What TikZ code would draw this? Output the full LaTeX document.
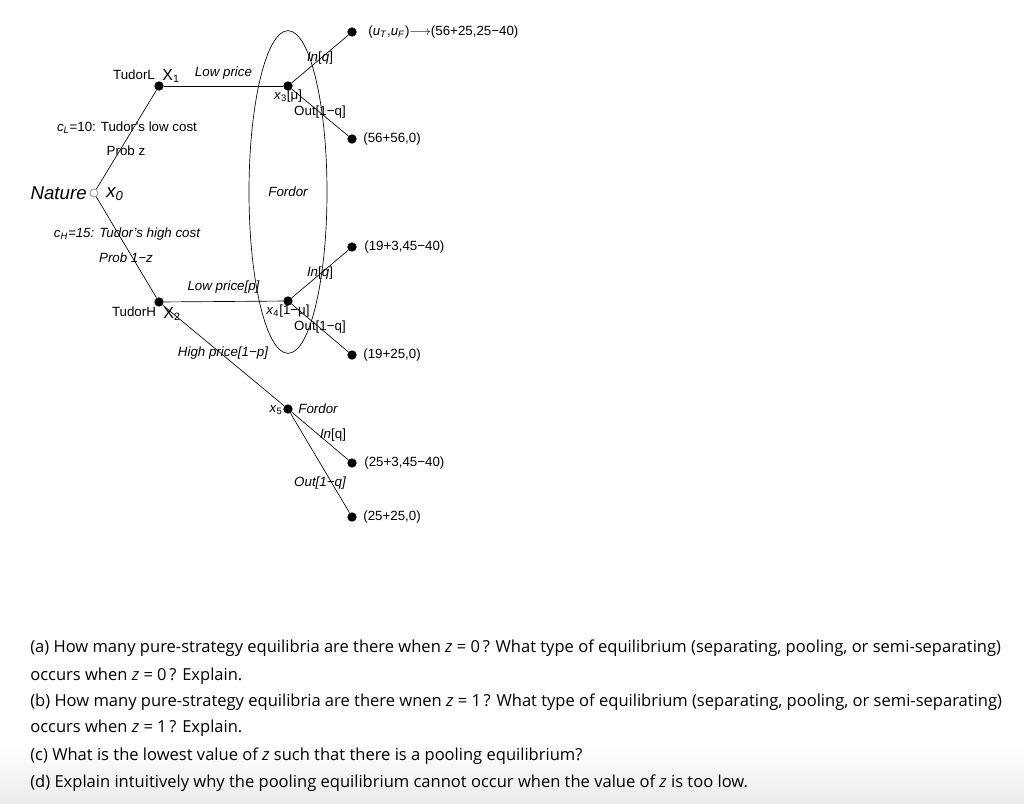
\documentclass[tikz,border=0pt]{standalone}
\usepackage{fontspec}
\setmainfont{Liberation Sans}
\newfontfamily\questfont{Open Sans}
\usetikzlibrary{shapes.geometric}

\begin{document}
\begin{tikzpicture}[x=0.75pt, y=-0.75pt, line width=0.5pt,
  decision/.style={circle, fill=black, inner sep=0pt, minimum size=7pt},
  chance/.style={circle, draw=gray, inner sep=0pt, minimum size=6pt},
  lbl/.style={font=\fontsize{10}{12}\selectfont, inner sep=0pt},
  pay/.style={lbl, anchor=west},
  question/.style={font=\questfont\fontsize{12.4}{14}\selectfont, anchor=west, inner sep=0pt}]

\useasboundingbox (0,0) rectangle (1024,803);
\shade[top color=white, bottom color=black!8] (0,745) rectangle (1024,803);

 %% Parameters
%% column positions of the tree
\def\tudorX{159}
\def\fordorX{288}
\def\endX{352}
\def\payX{363}

%% Nature and Tudor
\node[chance] (x0) at (94, 193) {};
\node[anchor=east, font=\fontsize{14}{16}\selectfont\itshape, inner sep=0pt] (naturetxt) at (87, 193) {Nature};
\node[font=\fontsize{14}{16}\selectfont\itshape, inner sep=0pt] (x0txt) at (115, 194) {x\textsubscript{0}};

\node[decision] (x1) at (\tudorX, 86) {};
\node[lbl] (x1who) at (134, 75) {TudorL};
\node[font=\fontsize{12}{14}\selectfont, inner sep=0pt] (x1txt) at (171, 76) {X\textsubscript{1}};
\node[decision] (x2) at (\tudorX, 302) {};
\node[lbl] (x2who) at (134, 312) {TudorH};
\node[font=\fontsize{12}{14}\selectfont, inner sep=0pt] (x2txt) at (172, 314) {X\textsubscript{2}};

\draw (x0) -- (x1);
\draw (x0) -- (x2);
\node[lbl] (lowcost) at (127, 128) {\textit{c}\textsubscript{\textit{L}}=10: Tudor's low cost};
\node[lbl] (probz) at (126, 151) {Prob z};
\node[lbl, font=\fontsize{10}{12}\selectfont\itshape] (highcost) at (127, 234) {c\textsubscript{H}=15: Tudor's high cost};
\node[lbl, font=\fontsize{10}{12}\selectfont\itshape] (probnz) at (126, 258) {Prob 1−z};

%% Fordor information set
\node[draw, ellipse, minimum width=58.5pt, minimum height=242pt, inner sep=0pt,
      font=\fontsize{10}{12}\selectfont\itshape] (info) at (\fordorX, 192) {Fordor};

\node[decision] (x3) at (\fordorX, 86) {};
\node[lbl] (x3txt) at (288, 96) {\textit{x}\textsubscript{3}[μ]};
\node[decision] (x4) at (\fordorX, 301) {};
\node[lbl] (x4txt) at (288, 311) {\textit{x}\textsubscript{4}[1−μ]};
\draw (x1) -- node[lbl, above=5pt, font=\fontsize{10}{12}\selectfont\itshape] {Low price} (x3);
\draw (x2) -- node[lbl, above=6pt, font=\fontsize{10}{12}\selectfont\itshape] {Low price[p]} (x4);

%% High price branch
\node[decision] (x5) at (\fordorX, 409) {};
\node[lbl] (x5txt) at (276, 410) {\textit{x}\textsubscript{5}};
\node[lbl, font=\fontsize{10}{12}\selectfont\itshape] (x5who) at (318, 409) {Fordor};
\draw (x2) -- (x5);
\node[lbl, font=\fontsize{10}{12}\selectfont\itshape] (highp) at (223, 353) {High price[1−p]};

%% Terminal nodes and payoffs
\node[decision] (t1) at (\endX, 32) {};
\node[decision] (t2) at (\endX, 139) {};
\node[decision] (t3) at (\endX, 247) {};
\node[decision] (t4) at (\endX, 355) {};
\node[decision] (t5) at (\endX, 463) {};
\node[decision] (t6) at (\endX, 517) {};

\node[pay] (p1) at (368, 32) {(\textit{u}\textsubscript{\textit{T}},\textit{u}\textsubscript{\textit{F}})$\longrightarrow$(56+25,25−40)};
\node[pay] (p2) at (\payX, 139) {(56+56,0)};
\node[pay] (p3) at (364, 247) {(19+3,45−40)};
\node[pay] (p4) at (\payX, 355) {(19+25,0)};
\node[pay] (p5) at (364, 463) {(25+3,45−40)};
\node[pay] (p6) at (\payX, 517) {(25+25,0)};

\draw (x3) -- (t1);
\draw (x3) -- (t2);
\draw (x4) -- (t3);
\draw (x4) -- (t4);
\draw (x5) -- (t5);
\draw (x5) -- (t6);

\node[lbl] (in3) at (320, 58) {\textit{In}[\textit{q}]};
\node[lbl] (out3) at (320, 112) {Out[1−q]};
\node[lbl] (in4) at (320, 273) {\textit{In}[\textit{q}]};
\node[lbl] (out4) at (320, 327) {Out[1−q]};
\node[lbl] (in5) at (333, 435) {\textit{In}[q]};
\node[lbl, font=\fontsize{10}{12}\selectfont\itshape] (out5) at (320, 483) {Out[1−q]};

%% Questions
\node[question] (qa1) at (30, 648) {(a) How many pure-strategy equilibria are there when \textit{z} = 0\,? What type of equilibrium (separating, pooling, or semi-separating)};
\node[question] (qa2) at (30, 676) {occurs when \textit{z} = 0\,? Explain.};
\node[question] (qb1) at (30, 702) {(b) How many pure-strategy equilibria are there wnen \textit{z} = 1\,? What type of equilibrium (separating, pooling, or semi-separating)};
\node[question] (qb2) at (30, 728) {occurs when \textit{z} = 1\,? Explain.};
\node[question] (qc) at (30, 756) {(c) What is the lowest value of \textit{z} such that there is a pooling equilibrium?};
\node[question] (qd) at (30, 783) {(d) Explain intuitively why the pooling equilibrium cannot occur when the value of \textit{z} is too low.};
\end{tikzpicture}
\end{document}
